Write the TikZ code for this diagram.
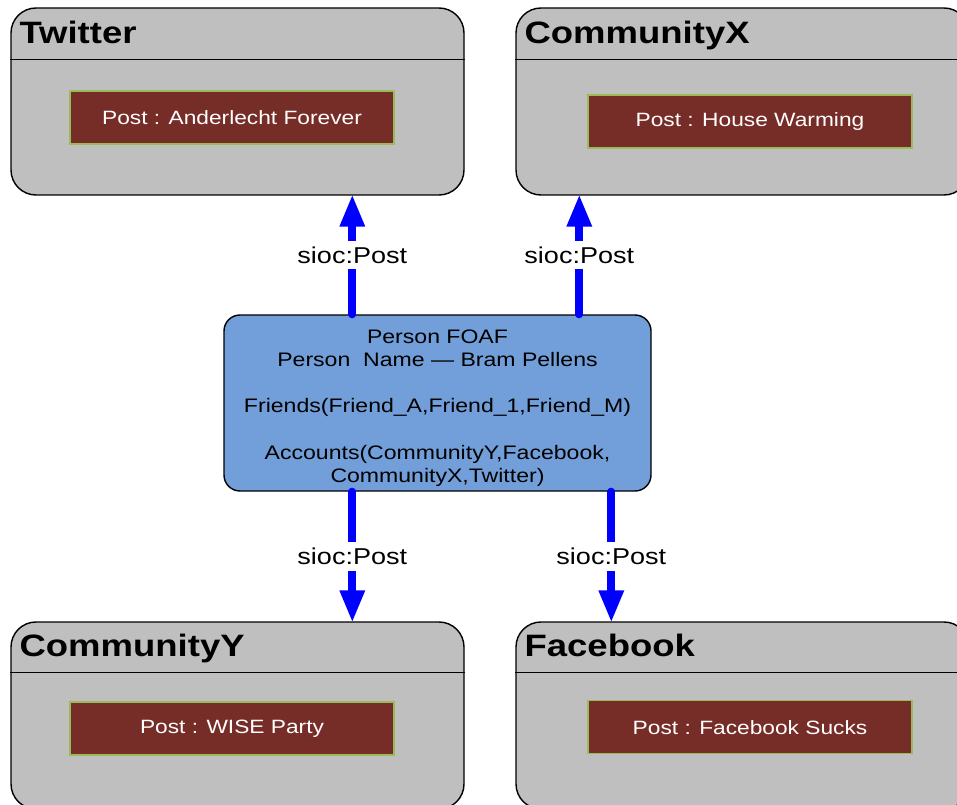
\documentclass[tikz,border=0pt]{standalone}
\usepackage{fontspec}
\setmainfont{Liberation Sans}[FakeStretch=1.18]
\usepackage{xcolor}
\usepackage{tikz}
\usetikzlibrary{arrows.meta, positioning}
\definecolor{boxgray}{RGB}{191,191,191}
\definecolor{postred}{RGB}{119,45,39}
\definecolor{postedge}{RGB}{155,187,89}
\definecolor{foafblue}{RGB}{114,159,217}

\begin{document}
\begin{tikzpicture}[
account/.style={rectangle, draw=black, fill=boxgray, line width=1pt, rounded corners=0.625cm, minimum width=11.325cm, minimum height=4.675cm},
heading/.style={anchor=base west, inner sep=0pt, font=\fontsize{22}{26}\selectfont\bfseries},
post/.style={rectangle, draw=postedge, fill=postred, line width=0.8pt, minimum width=8.1cm, minimum height=1.325cm, text=white, font=\fontsize{13.7}{16}\selectfont},
person/.style={rectangle, draw=black, fill=foafblue, line width=1pt, rounded corners=0.4cm, minimum width=10.675cm, minimum height=4.4cm, align=center, font=\fontsize{13.9}{16.4}\selectfont},
link/.style={draw=blue, line width=5.7pt, line cap=round, -{Triangle[length=22pt, width=18.5pt, line width=0pt]}},
tag/.style={fill=white, inner sep=4pt, font=\fontsize{16.3}{19}\selectfont}
]
\useasboundingbox (0,0) rectangle (23.925,-20.125);

\node[account] (twitter) at (5.9375,-2.5375) {};
\node[account] (communityx) at (18.5625,-2.5375) {};
\node[account] (communityy) at (5.9375,-17.8875) {};
\node[account] (facebook) at (18.5625,-17.8875) {};

\draw[line width=1pt] ([yshift=-1.3cm]twitter.north west) -- ([yshift=-1.3cm]twitter.north east);
\draw[line width=1pt] ([yshift=-1.3cm]communityx.north west) -- ([yshift=-1.3cm]communityx.north east);
\draw[line width=1pt] ([yshift=-1.275cm]communityy.north west) -- ([yshift=-1.275cm]communityy.north east);
\draw[line width=1pt] ([yshift=-1.275cm]facebook.north west) -- ([yshift=-1.275cm]facebook.north east);

\node[heading] (twtitle) at ([xshift=0.225cm, yshift=-0.9cm]twitter.north west) {Twitter};
\node[heading] (cxtitle) at ([xshift=0.225cm, yshift=-0.9cm]communityx.north west) {CommunityX};
\node[heading] (cytitle) at ([xshift=0.225cm, yshift=-0.875cm]communityy.north west) {CommunityY};
\node[heading] (fbtitle) at ([xshift=0.225cm, yshift=-0.875cm]facebook.north west) {Facebook};

\node[post] (twpost) at (5.8,-2.9375) {Post : Anderlecht Forever};
\node[post] (cxpost) at (18.75,-3.0375) {Post : House Warming};
\node[post] (cypost) at (5.8,-18.2125) {Post : WISE Party};
\node[post] (fbpost) at (18.75,-18.18) {Post : Facebook Sucks};

\node[person] (person) at (10.9375,-10.075) {\rule{0pt}{17pt}Person FOAF\\Person\ \ Name — Bram Pellens\\[16.4pt]Friends(Friend\_A,Friend\_1,Friend\_M)\\[16.4pt]Accounts(CommunityY,Facebook,\\CommunityX,Twitter)};

\coordinate (t1) at ([xshift=3.225cm]person.north west);
\coordinate (t2) at ([xshift=8.9cm]person.north west);
\coordinate (b1) at ([xshift=3.225cm]person.south west);
\coordinate (b2) at ([xshift=9.7cm]person.south west);

\draw[link] (t1) -- (t1 |- twitter.south) node[tag, midway] {sioc:Post};
\draw[link] (t2) -- (t2 |- communityx.south) node[tag, midway] {sioc:Post};
\draw[link] (b1) -- (b1 |- communityy.north) node[tag, midway] {sioc:Post};
\draw[link] (b2) -- (b2 |- facebook.north) node[tag, midway] {sioc:Post};

\end{tikzpicture}
\end{document}
